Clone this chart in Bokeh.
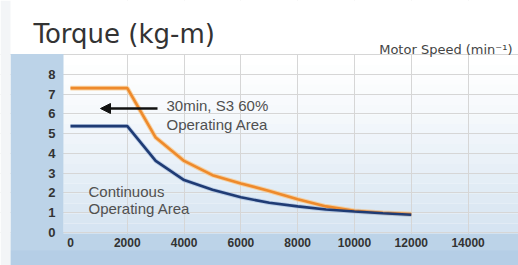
from bokeh.plotting import figure
from bokeh.models import Range1d, FixedTicker, Label, Arrow, NormalHead, BoxAnnotation
from bokeh.embed import file_html
from bokeh.resources import INLINE

# ---- data ----
speed = [0, 2000, 3000, 4000, 5000, 6000, 7000, 8000, 9000, 10000, 11000, 12000]
torque_s3 = [7.3, 7.3, 4.8, 3.62, 2.9, 2.48, 2.1, 1.68, 1.32, 1.1, 1.0, 0.93]
torque_cont = [5.38, 5.38, 3.62, 2.65, 2.16, 1.78, 1.5, 1.32, 1.16, 1.06, 0.97, 0.9]
x_ticks = [0, 2000, 4000, 6000, 8000, 10000, 12000, 14000]
y_ticks = [0, 1, 2, 3, 4, 5, 6, 7, 8]
y_top = 9

title_text = "Torque (kg-m)"
xlabel_text = "Motor Speed (min\u207b\u00b9)"
s3_lines = ["30min, S3 60%", "Operating Area"]
cont_lines = ["Continuous", "Operating Area"]

# ---- layout geometry (pixels) ----
W, H = 518, 265
X0_PX, PX_PER_X = 70.0, 0.0284      # x = 0 at px 70, 28.4 px per 1000 min^-1
Y0_PX, PX_PER_Y = 232.0, 19.78      # y = 0 at px 232 (from top)
PLOT_LEFT_PX = 63
PLOT_BOTTOM_PX = 233
STRIP_LEFT_PX = 10
BLUE = "#bcd3e8"


def dx(px):
    return (px - X0_PX) / PX_PER_X


def dy(py):
    return (Y0_PX - py) / PX_PER_Y


p = figure(width=W, height=H,
           x_range=Range1d(dx(0), dx(W)), y_range=Range1d(dy(H), dy(0)),
           title=None, toolbar_location=None, output_backend="svg",
           min_border=0, border_fill_color="white", background_fill_color="white",
           outline_line_color=None)

plot_left = dx(PLOT_LEFT_PX)
plot_bottom = dy(PLOT_BOTTOM_PX)
strip_left = dx(STRIP_LEFT_PX)

# vertical gradient in the plot area (white at top -> light blue at bottom)
n = 18
top_c = (255, 255, 255)
bot_c = (212, 227, 241)
for i in range(n):
    t = (i + 0.5) / n
    f = (1 - t) ** 1.3
    c = tuple(int(round(top_c[k] + (bot_c[k] - top_c[k]) * f)) for k in range(3))
    b = plot_bottom + (y_top - plot_bottom) * i / n
    tp = plot_bottom + (y_top - plot_bottom) * (i + 1) / n
    p.add_layout(BoxAnnotation(bottom=b, top=tp, left=plot_left,
                               fill_color="#%02x%02x%02x" % c, fill_alpha=1.0,
                               line_color=None, level="image"))

# grids
p.xgrid.ticker = FixedTicker(ticks=x_ticks[1:])
p.ygrid.ticker = FixedTicker(ticks=y_ticks + [y_top])
p.grid.grid_line_color = "#d6d6d6"
p.grid.grid_line_width = 1

# cover grid outside the plot area: white header, blue left/bottom strips, white margin
p.add_layout(BoxAnnotation(bottom=y_top + 0.03, fill_color="white", fill_alpha=1.0,
                           line_color=None, level="underlay"))
p.add_layout(BoxAnnotation(top=y_top + 0.03, right=plot_left, left=strip_left,
                           fill_color=BLUE, fill_alpha=1.0, line_color=None, level="underlay"))
p.add_layout(BoxAnnotation(top=plot_bottom, left=strip_left,
                           fill_color=BLUE, fill_alpha=1.0, line_color=None, level="underlay"))
# slightly deeper blue at the very bottom of the lower strip
p.add_layout(BoxAnnotation(top=dy(250), left=strip_left,
                           fill_color="#b0cbe4", fill_alpha=0.6, line_color=None, level="underlay"))
p.add_layout(BoxAnnotation(right=strip_left, fill_color="#f3f5f7", fill_alpha=1.0,
                           line_color=None, level="underlay"))

# axes (placed inside the frame at the plot-area edges)
for ax in (p.xaxis, p.yaxis):
    ax.axis_line_color = None
    ax.major_tick_line_color = None
    ax.minor_tick_line_color = None
    ax.major_tick_out = 0
    ax.major_tick_in = 0
    ax.minor_tick_out = 0
    ax.major_label_text_font = "Liberation Sans"
    ax.major_label_text_font_style = "bold"
    ax.major_label_text_color = "#333333"

p.xaxis.ticker = FixedTicker(ticks=x_ticks)
p.xaxis.fixed_location = plot_bottom
p.xaxis.major_label_text_font_size = "12px"
p.xaxis.major_label_standoff = 4
p.yaxis.ticker = FixedTicker(ticks=y_ticks)
p.yaxis.fixed_location = plot_left
p.yaxis.major_label_text_font_size = "13px"
p.yaxis.major_label_standoff = 8

# curves with soft halo
p.line(speed, torque_s3, line_color="#f7c88c", line_width=4.6, line_alpha=0.8)
p.line(speed, torque_cont, line_color="#9fb8dc", line_width=4.4, line_alpha=0.6)
p.line(speed, torque_s3, line_color="#ee8a2c", line_width=2.6)
p.line(speed, torque_cont, line_color="#1f3b74", line_width=2.6)

# arrow
p.add_layout(Arrow(end=NormalHead(size=10, fill_color="#111111", line_color="#111111"),
                   x_start=dx(157), y_start=dy(108), x_end=dx(100), y_end=dy(108),
                   line_color="#111111", line_width=2.5))

# area labels
txt_style = dict(text_font="Liberation Sans", text_font_size="15px",
                 text_color="#505050", text_baseline="alphabetic")
p.add_layout(Label(x=dx(166), y=dy(105), text=s3_lines[0], **txt_style))
p.add_layout(Label(x=dx(166), y=dy(123.5), text=s3_lines[1], **txt_style))
p.add_layout(Label(x=dx(88), y=dy(191), text=cont_lines[0], **txt_style))
p.add_layout(Label(x=dx(88), y=dy(208), text=cont_lines[1], **txt_style))

# header texts
p.add_layout(Label(x=dx(33), y=dy(33.5), text=title_text, text_font="DejaVu Sans",
                   text_font_size="26px", text_color="#333333", text_baseline="alphabetic"))
p.add_layout(Label(x=dx(512), y=dy(48.5), text=xlabel_text, text_font="DejaVu Sans",
                   text_font_size="13px", text_color="#444444",
                   text_align="right", text_baseline="alphabetic"))

open("out.html", "w").write(file_html(p, INLINE))
